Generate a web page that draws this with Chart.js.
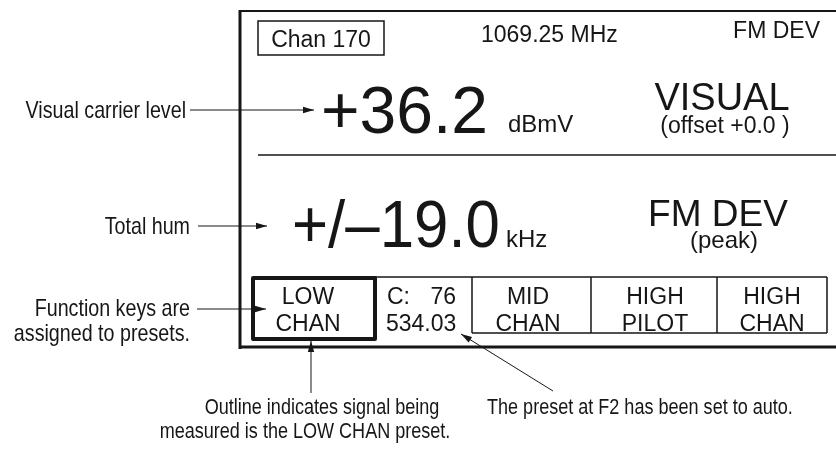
<!DOCTYPE html>
<html>
<head>
<meta charset="utf-8">
<script src="https://cdn.jsdelivr.net/npm/chart.js@4.4.1/dist/chart.umd.min.js"></script>
<style>
  html, body { margin: 0; padding: 0; background: #fff; }
  canvas { display: block; }
</style>
</head>
<body>
<canvas id="panel" width="836" height="452"></canvas>
<script>
// what the meter shows
const channelLabel = 'Chan 170';
const frequencyLabel = '1069.25 MHz';
const modeLabel = 'FM DEV';
const readings = ['+36.2', '+/–19.0'];
const readingUnits = ['dBmV', 'kHz'];
const readingModes = ['VISUAL', 'FM DEV'];
const readingNotes = ['(offset +0.0 )', '(peak)'];
// function keys F1..F5
const presetTop = ['LOW', 'C:', 'MID', 'HIGH', 'HIGH'];
const presetBottom = ['CHAN', '534.03', 'CHAN', 'PILOT', 'CHAN'];
const autoChannel = '76';
// callouts
const sideNotes = ['Visual carrier level', 'Total hum', 'Function keys are', 'assigned to presets.'];
const footNotes = ['Outline indicates signal being', 'measured is the LOW CHAN preset.', 'The preset at F2 has been set to auto.'];

// layout, in picture units (scales map them to pixels)
const keyEdges = [253, 375, 472, 591, 717, 827];
const keyCenters = [308, 0, 528, 655, 772];
const ink = '#161616';
const face = "'Liberation Sans', Arial, Helvetica, sans-serif";

const panelPlugin = {
  id: 'panel',
  afterDraw(chart) {
    const ctx = chart.ctx;
    const sx = v => chart.scales.x.getPixelForValue(v);
    const sy = v => chart.scales.y.getPixelForValue(v);

    function line(x1, y1, x2, y2, w) {
      ctx.beginPath();
      ctx.lineWidth = w;
      ctx.moveTo(sx(x1), sy(y1));
      ctx.lineTo(sx(x2), sy(y2));
      ctx.stroke();
    }
    function arrow(x1, y1, x2, y2) {
      line(x1, y1, x2, y2, 1);
      const a = Math.atan2(sy(y2) - sy(y1), sx(x2) - sx(x1));
      const len = 11, half = 3.2;
      const tx = sx(x2), ty = sy(y2);
      ctx.beginPath();
      ctx.moveTo(tx, ty);
      ctx.lineTo(tx - len * Math.cos(a) + half * Math.sin(a), ty - len * Math.sin(a) - half * Math.cos(a));
      ctx.lineTo(tx - len * Math.cos(a) - half * Math.sin(a), ty - len * Math.sin(a) + half * Math.cos(a));
      ctx.closePath();
      ctx.fill();
    }
    function text(str, x, y, size, align, maxW) {
      ctx.font = size + 'px ' + face;
      ctx.textAlign = align || 'left';
      ctx.textBaseline = 'alphabetic';
      if (maxW) ctx.fillText(str, sx(x), sy(y), maxW);
      else ctx.fillText(str, sx(x), sy(y));
    }
    // condensed face for the callouts
    function note(str, x, y, size, align) {
      ctx.save();
      ctx.translate(sx(x), sy(y));
      ctx.scale(0.82, 1);
      ctx.font = size + 'px ' + face;
      ctx.textAlign = align || 'left';
      ctx.fillText(str, 0, 0);
      ctx.restore();
    }

    ctx.save();
    ctx.strokeStyle = ink;
    ctx.fillStyle = ink;

    // display frame
    line(240, 10, 240, 349, 3);
    line(239, 11, 836, 11, 2);
    line(239, 347, 836, 347, 3);

    // header line
    ctx.lineWidth = 1.5;
    ctx.strokeRect(sx(258), sy(21), sx(384) - sx(258), sy(55) - sy(21));
    text(channelLabel, 321, 47, 23, 'center');
    text(frequencyLabel, 481, 42, 23, 'left');
    text(modeLabel, 820, 38, 23, 'right');

    // visual carrier reading
    text(readings[0], 321, 133, 66, 'left', 168);
    text(readingUnits[0], 508, 132, 24, 'left');
    text(readingModes[0], 722, 110, 38, 'center');
    text(readingNotes[0], 725, 133, 23, 'center', 139);
    line(258, 155, 836, 155, 1.5);

    // hum reading
    text(readings[1], 292, 247, 66, 'left', 208);
    text(readingUnits[1], 506, 247, 24, 'left');
    text(readingModes[1], 718, 226, 37, 'center');
    text(readingNotes[1], 724, 248, 24, 'center');

    // function key cells
    line(keyEdges[1], 277, keyEdges[5], 277, 1.5);
    line(keyEdges[2], 333, keyEdges[5], 333, 1.5);
    for (let i = 2; i < keyEdges.length; i++) line(keyEdges[i], 277, keyEdges[i], 333, 1.5);
    ctx.lineWidth = 4;
    ctx.lineJoin = 'round';
    ctx.strokeRect(sx(keyEdges[0]), sy(278), sx(keyEdges[1]) - sx(keyEdges[0]), sy(339) - sy(278));
    presetTop.forEach((t, i) => {
      if (i === 1) {
        text(t, 387, 304, 23, 'left');
        text(autoChannel, 456, 304, 23, 'right');
        text(presetBottom[i], 386, 331, 23, 'left');
      } else {
        text(t, keyCenters[i], 304, 23, 'center');
        text(presetBottom[i], keyCenters[i], 331, 23, 'center');
      }
    });

    // callouts on the left
    note(sideNotes[0], 186, 118, 24, 'right');
    arrow(190, 110, 314, 110);
    note(sideNotes[1], 190, 234, 24, 'right');
    arrow(198, 226, 267, 226);
    note(sideNotes[2], 190, 316, 24, 'right');
    note(sideNotes[3], 190, 341, 24, 'right');
    arrow(197, 309, 266, 309);

    // callouts below
    arrow(311, 393, 311, 341);
    note(footNotes[0], 322, 414, 22, 'center');
    note(footNotes[1], 305, 438, 22, 'center');
    arrow(553, 391, 461, 334);
    note(footNotes[2], 487, 414, 22, 'left');

    ctx.restore();
  }
};

new Chart(document.getElementById('panel'), {
  type: 'scatter',
  data: { datasets: [] },
  options: {
    responsive: false,
    animation: false,
    events: [],
    layout: { padding: 0 },
    plugins: { legend: { display: false }, tooltip: { enabled: false } },
    scales: {
      x: { type: 'linear', min: 0, max: 836, display: false },
      y: { type: 'linear', min: 0, max: 452, reverse: true, display: false }
    }
  },
  plugins: [panelPlugin]
});
</script>
</body>
</html>
